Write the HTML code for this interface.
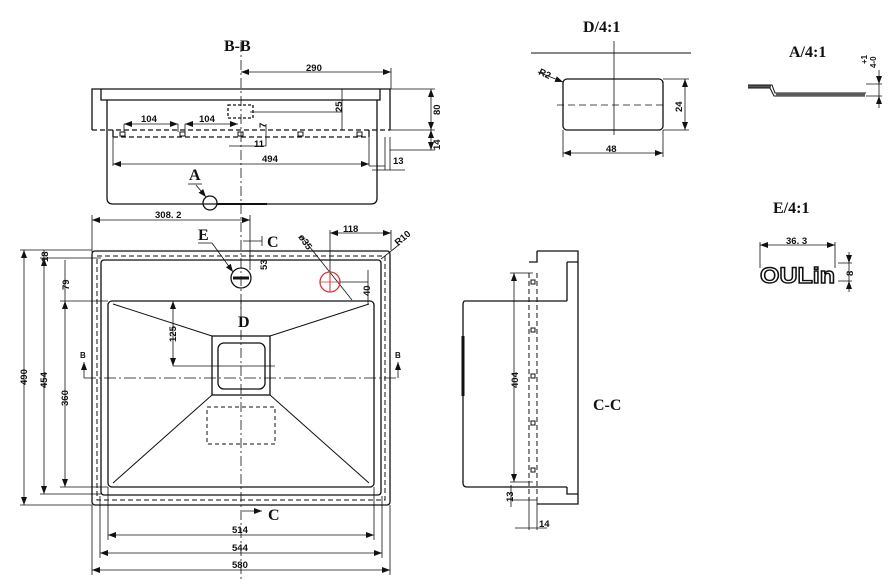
<!DOCTYPE html>
<html><head><meta charset="utf-8"><style>
html,body{margin:0;padding:0;background:#fff}
svg{display:block}
text{font-family:"Liberation Sans",sans-serif;font-size:9.5px;font-weight:bold;fill:#111}
.t{font-family:"Liberation Serif",serif;font-size:16px;font-weight:bold}
</style></head><body>
<svg width="892" height="588" viewBox="0 0 892 588" xmlns="http://www.w3.org/2000/svg">
<defs>
<marker id="a" markerWidth="8" markerHeight="6" refX="8" refY="3" orient="auto-start-reverse" markerUnits="userSpaceOnUse"><path d="M0,0 L8,3 L0,6z" fill="#111"/></marker>
</defs>
<g stroke="#111" fill="none" stroke-width="1.3">
<path d="M92,130 V89 H390 V130"/>
<path d="M101,89 V100 H380 V89"/>
<path d="M107,100 V198 Q107,204 113,204 H371 Q377,204 377,198 V100"/>
<path d="M92,130 H390" stroke-dasharray="5,3"/>
<path d="M113,137 H369" stroke-dasharray="5,3"/>
<path d="M113,130 V137 M369,130 V137"/>
<rect x="228" y="105" width="25" height="13" stroke-dasharray="3,2"/>
<g stroke-width="1"><rect x="120" y="132" width="5" height="4"/><rect x="180" y="132" width="5" height="4"/><rect x="238" y="132" width="5" height="4"/><rect x="298" y="132" width="5" height="4"/><rect x="357" y="132" width="5" height="4"/></g>
<circle cx="210" cy="203" r="7"/>
<path d="M217,204 H267" stroke-width="2"/>
<g stroke-width="0.8">
<path d="M241,42 V580" stroke-dasharray="10,3,2,3"/>
<path d="M241,72 H391" marker-start="url(#a)" marker-end="url(#a)"/>
<path d="M391,68 V89"/>
<path d="M124,124 H178" marker-start="url(#a)" marker-end="url(#a)"/>
<path d="M185,124 H238" marker-start="url(#a)" marker-end="url(#a)"/>
<path d="M124,124 V132 M178,124 V132 M185,124 V132"/>
<path d="M113,164 H369" marker-start="url(#a)" marker-end="url(#a)"/>
<path d="M113,137 V166 M369,137 V166"/>
<path d="M342,89 V130 M250,112 H342"/>
<path d="M431,89 V130" marker-start="url(#a)" marker-end="url(#a)"/>
<path d="M431,130 V150" marker-start="url(#a)" marker-end="url(#a)"/>
<path d="M390,89 H435 M390,130 H435 M390,150 H435"/>
<path d="M369,166 H385 M385,137 V170 M390,137 V170 M372,170 H405"/>
<path d="M266,124 V146 M229,146 H266 M241,146 H250"/>
<path d="M196,185 L206,197" marker-end="url(#a)"/>
<path d="M188,184 H202"/>
<path d="M92,220 H250" marker-start="url(#a)" marker-end="url(#a)"/>
<path d="M92,215 V252 M250,215 V270"/>
<path d="M330,233 H391" marker-start="url(#a)" marker-end="url(#a)"/>
<path d="M330,230 V292 M391,230 V250"/>
<path d="M243,241 H262 M262,236 V246"/>
<path d="M242,511 H262" marker-end="url(#a)"/>
<path d="M24,250 V505" marker-start="url(#a)" marker-end="url(#a)"/>
<path d="M44,258 V494" marker-start="url(#a)" marker-end="url(#a)"/>
<path d="M44,250 V258"/>
<path d="M65,260 V301"/>
<path d="M65,301 V487" marker-start="url(#a)" marker-end="url(#a)"/>
<path d="M20,250 H92 M40,258 H101 M60,301 H108 M60,487 H108 M40,494 H101 M20,505 H92"/>
<path d="M173,301 V366" marker-start="url(#a)" marker-end="url(#a)"/>
<path d="M173,366 H275"/>
<path d="M108,535 H374" marker-start="url(#a)" marker-end="url(#a)"/>
<path d="M100,553 H382" marker-start="url(#a)" marker-end="url(#a)"/>
<path d="M92,570 H390" marker-start="url(#a)" marker-end="url(#a)"/>
<path d="M108,487 V540 M374,487 V540 M100,496 V558 M382,496 V558 M92,505 V575 M390,505 V575"/>
<path d="M84,378 H398" stroke-dasharray="12,3,2,3"/>
<path d="M84,378 V362" marker-end="url(#a)"/><path d="M398,378 V362" marker-end="url(#a)"/>
<path d="M241,300 V312"/>
<path d="M198,243 H212 L233,272" marker-end="url(#a)"/>
<path d="M301,236 L352,300"/>
<path d="M340,282 H368 M368,270 V304"/>
<path d="M381,259 L400,244"/>
</g>
<rect x="92" y="251" width="298" height="254" rx="3"/>
<rect x="97" y="256" width="288" height="244" stroke-dasharray="5,3" stroke-width="1"/>
<rect x="101" y="260" width="280" height="235" rx="3"/>
<rect x="108" y="301" width="266" height="186" rx="4"/>
<rect x="212" y="336" width="58" height="59"/>
<rect x="218" y="343" width="47" height="46" rx="6"/>
<path d="M113,304 L212,336 M369,304 L270,336 M113,483 L212,395 M369,483 L270,395" stroke-width="1"/>
<rect x="207" y="407" width="68" height="37" stroke-dasharray="4,3" stroke-width="1"/>
<circle cx="241" cy="278" r="10"/>
<path d="M233,278 H249" stroke-width="3"/>
<circle cx="330" cy="282" r="10" stroke="#d33"/>
<path d="M320,282 H340 M330,272 V292" stroke="#d33" stroke-width="0.8"/>
<path d="M537,251 H578 V504 H537"/>
<path d="M567,262 H578 M567,262 V301 M567,487 V494 H578"/>
<path d="M529,262 H537 V251"/>
<path d="M465,301 H567 M465,301 Q463,301 463,305 V483 Q463,487 467,487 H567"/>
<path d="M463,336 V396" stroke-width="3"/>
<path d="M529,273 V500 M537,273 V500" stroke-dasharray="5,3" stroke-width="1"/>
<g stroke-width="1"><rect x="531" y="280" width="4" height="4"/><rect x="531" y="328" width="4" height="4"/><rect x="531" y="374" width="4" height="4"/><rect x="531" y="421" width="4" height="4"/><rect x="531" y="468" width="4" height="4"/></g>
<g stroke-width="0.8">
<path d="M514,273 V482" marker-start="url(#a)" marker-end="url(#a)"/>
<path d="M510,273 H533 M510,482 H533"/>
<path d="M510,487 H537 M510,500 H537 M511,485 V507"/>
<path d="M529,500 V530 M537,500 V530 M515,528 H547"/>
</g>
<path d="M531,53 H691" stroke-width="1"/>
<path d="M614,41 V135" stroke-width="0.8"/>
<rect x="563" y="79" width="100" height="51" rx="4"/>
<path d="M557,105 H665" stroke-dasharray="7,4" stroke-width="0.8"/>
<g stroke-width="0.8">
<path d="M685,79 V130" marker-start="url(#a)" marker-end="url(#a)"/>
<path d="M663,79 H689 M663,130 H689"/>
<path d="M563,153 H663" marker-start="url(#a)" marker-end="url(#a)"/>
<path d="M563,130 V157 M663,130 V157"/>
<path d="M538,72 L563,82" marker-end="url(#a)"/>
</g>
<path d="M748,85 H772 L775,93 H866" stroke-width="1"/>
<path d="M748,88 H770 L774,96 H865" stroke-width="1"/>
<path d="M748,86.5 H771" stroke-width="2" stroke="#555"/>
<path d="M776,94.5 H865" stroke-width="1.5" stroke="#555"/>
<g stroke-width="0.8">
<path d="M879,70 V84" marker-end="url(#a)"/>
<path d="M879,108 V96" marker-end="url(#a)"/>
<path d="M866,84 H882 M866,96 H882 M879,84 V96"/>
<path d="M760,245 H835" marker-start="url(#a)" marker-end="url(#a)"/>
<path d="M760,242 V268 M835,242 V268"/>
<path d="M849,252 V263" marker-end="url(#a)"/><path d="M849,292 V281" marker-end="url(#a)"/>
<path d="M838,263 H852 M838,281 H852 M849,263 V281"/>
</g>
</g>
<text x="224" y="51" class="t">B-B</text>
<text x="306" y="71">290</text>
<text x="141" y="122">104</text>
<text x="199" y="122">104</text>
<text x="262" y="162">494</text>
<text x="254" y="147">11</text>
<text x="393" y="164">13</text>
<text transform="translate(342,112) rotate(-90)">25</text>
<text transform="translate(440,115) rotate(-90)">80</text>
<text transform="translate(440,150) rotate(-90)">14</text>
<text transform="translate(266,128) rotate(-90)">7</text>
<text x="189" y="180" class="t">A</text>
<text x="155" y="218">308. 2</text>
<text x="198" y="240" class="t">E</text>
<text x="267" y="247" class="t">C</text>
<text x="268" y="520" class="t">C</text>
<text x="238" y="327" class="t">D</text>
<text x="343" y="232">118</text>
<text transform="translate(398,246) rotate(-40)">R10</text>
<text transform="translate(298,237) rotate(55)">ø35</text>
<text transform="translate(267,270) rotate(-90)">53</text>
<text transform="translate(370,296) rotate(-90)">40</text>
<text transform="translate(48,262) rotate(-90)">18</text>
<text transform="translate(69,290) rotate(-90)">79</text>
<text transform="translate(27,385) rotate(-90)">490</text>
<text transform="translate(47,388) rotate(-90)">454</text>
<text transform="translate(68,406) rotate(-90)">360</text>
<text transform="translate(176,342) rotate(-90)">125</text>
<text x="80" y="358" style="font-size:8px">B</text>
<text x="395" y="358" style="font-size:8px">B</text>
<text x="232" y="533">514</text>
<text x="232" y="551">544</text>
<text x="232" y="568">580</text>
<text x="593" y="410" class="t">C-C</text>
<text transform="translate(518,388) rotate(-90)">404</text>
<text transform="translate(513,502) rotate(-90)">13</text>
<text x="539" y="527">14</text>
<text x="583" y="32" class="t">D/4:1</text>
<text x="538" y="74" transform="rotate(25,538,74)">R2</text>
<text transform="translate(682,112) rotate(-90)">24</text>
<text x="606" y="152">48</text>
<text x="789" y="57" class="t">A/4:1</text>
<text transform="translate(867,64) rotate(-90)" style="font-size:8px">+1</text>
<text transform="translate(876,68) rotate(-90)" style="font-size:8px">4-0</text>
<text x="773" y="213" class="t">E/4:1</text>
<text x="786" y="244">36. 3</text>
<text x="760" y="283" textLength="75" lengthAdjust="spacingAndGlyphs" style="font-family:'Liberation Sans',sans-serif;font-size:22px;font-weight:bold;fill:#fff;stroke:#111;stroke-width:1.4">OULin</text>
<text transform="translate(853,276) rotate(-90)">8</text>
</svg>
</body></html>
